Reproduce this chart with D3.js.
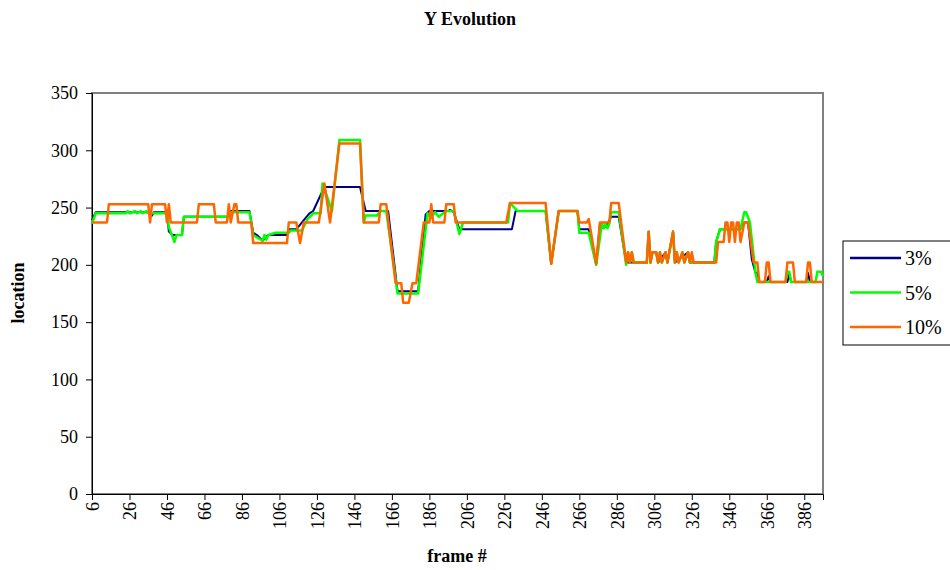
<!DOCTYPE html>
<html>
<head>
<meta charset="utf-8">
<script src="https://cdn.jsdelivr.net/npm/d3@7.9.0/dist/d3.min.js"></script>
<style>
  body { margin: 0; background: #fff; }
  svg text { font-family: "Liberation Serif", "DejaVu Serif", serif; fill: #000; }
</style>
</head>
<body>
<svg id="chart" width="950" height="570"></svg>
<script>
// series names, legend order
const seriesNames = ['3%', '5%', '10%'];

// breakpoints: [frame, location]
const s3 = [[6,239],[8,246],[37,246],[38,243],[39,246],[46,246],[47,229],[49,226],[54,226],[55,242],[79,242],[80,247],[90,247],[92,228],[94,226],[97,221],[100,226],[110,226],[111,231],[115,231],[119,239],[122,245],[124,247],[130,268],[149,268],[152,247],[164,247],[169,177],[180,177],[184,244],[186,247],[196,247],[197,248],[199,246],[202,231],[230,231],[232,247],[248,247],[251,201],[255,247],[265,247],[266,231],[271,231],[275,201],[277,236],[279,232],[281,236],[283,242],[287,242],[291,202],[302,202],[303,229],[304,202],[305,211],[307,211],[308,202],[312,211],[313,202],[316,229],[317,202],[324,211],[325,202],[338,202],[339,220],[341,231],[351,231],[354,237],[356,237],[358,205],[360,193],[361,193],[362,185],[366,185],[367,190],[368,185],[377,185],[378,192],[379,185],[387,185],[388,193],[389,185],[396,185]];

const s5 = [[6,236],[8,245],[24,245],[25,247],[26,245],[29,247],[30,245],[32,247],[33,245],[35,247],[36,245],[46,245],[47,233],[50,220],[51,226],[54,226],[55,242],[79,242],[80,246],[90,246],[92,226],[97,221],[98,226],[99,222],[100,226],[104,228],[111,228],[112,230],[118,230],[121,240],[124,245],[128,245],[129,271],[134,247],[138,309],[149,309],[151,237],[152,243],[158,243],[160,247],[163,247],[169,175],[180,175],[185,245],[187,241],[189,246],[191,242],[195,247],[199,247],[202,227],[204,237],[228,237],[229,254],[233,247],[248,247],[251,201],[255,247],[265,247],[266,228],[271,228],[275,200],[278,236],[279,232],[280,236],[281,232],[282,236],[283,246],[287,246],[291,200],[292,211],[293,202],[294,211],[295,202],[302,202],[303,229],[304,202],[305,211],[307,211],[308,202],[309,211],[310,202],[312,211],[313,202],[316,229],[317,202],[318,211],[319,202],[321,211],[322,202],[324,211],[325,202],[338,202],[339,220],[341,231],[352,231],[354,246],[355,246],[357,237],[360,193],[361,185],[376,185],[377,194],[378,194],[379,185],[392,185],[393,194],[395,194],[396,190]];

const s10 = [[6,237],[14,237],[15,253],[36,253],[37,237],[38,253],[45,253],[46,237],[47,253],[48,237],[62,237],[63,253],[71,253],[72,237],[78,237],[79,253],[80,237],[82,253],[83,253],[84,237],[91,237],[92,219],[110,219],[111,237],[115,237],[117,219],[119,237],[127,237],[130,271],[133,237],[138,306],[149,306],[151,237],[159,237],[160,253],[163,253],[168,184],[171,184],[172,167],[175,167],[177,184],[179,184],[183,237],[186,237],[187,253],[188,237],[194,237],[195,253],[199,253],[200,237],[227,237],[229,254],[248,254],[251,201],[255,247],[265,247],[266,237],[270,237],[271,240],[275,201],[277,237],[282,237],[283,254],[287,254],[291,202],[292,211],[293,202],[294,211],[295,202],[302,202],[303,229],[304,202],[305,211],[307,211],[308,202],[309,211],[310,202],[312,211],[313,202],[316,229],[317,202],[318,211],[319,202],[321,211],[322,202],[324,211],[325,202],[326,211],[327,202],[339,202],[340,220],[343,220],[344,237],[345,237],[346,220],[347,237],[348,237],[349,220],[350,237],[351,237],[352,220],[354,237],[356,237],[359,202],[361,202],[362,185],[365,185],[366,202],[367,202],[368,185],[376,185],[377,202],[380,202],[381,185],[387,185],[388,202],[389,202],[390,185],[396,185]];

const yTicks = [0, 50, 100, 150, 200, 250, 300, 350];
const xTicks = [6, 26, 46, 66, 86, 106, 126, 146, 166, 186, 206, 226, 246, 266, 286, 306, 326, 346, 366, 386];
const colors = ['#000080', '#00ff00', '#ff6600'];

const svg = d3.select('#chart');
const plotLeft = 92, plotRight = 823, plotTop = 93, plotBottom = 494;

const x = d3.scaleLinear().domain([6, 396]).range([plotLeft, plotRight]);
const y = d3.scaleLinear().domain([0, 350]).range([plotBottom, plotTop]);

// title
svg.append('text')
  .attr('x', 470).attr('y', 25)
  .attr('text-anchor', 'middle')
  .style('font-size', '18px').style('font-weight', 'bold')
  .text('Y Evolution');

// plot area border
svg.append('rect')
  .attr('x', plotLeft).attr('y', plotTop)
  .attr('width', plotRight - plotLeft).attr('height', plotBottom - plotTop)
  .attr('fill', 'none').attr('stroke', '#808080').attr('stroke-width', 2);

// y axis
let yAxis = svg.append('g')
  .attr('transform', `translate(${plotLeft},0)`)
  .call(d3.axisLeft(y).tickValues(yTicks).tickSize(6).tickPadding(8));
yAxis.select('.domain').attr('stroke', '#000');
yAxis.selectAll('text').style('font-size', '18px').style('font-family', '"Liberation Serif", serif');

// x axis
let xAxis = svg.append('g')
  .attr('transform', `translate(0,${plotBottom})`)
  .call(d3.axisBottom(x).tickValues(xTicks).tickSize(6).tickFormat(d3.format('d')));
xAxis.select('.domain').attr('stroke', '#000');
xAxis.selectAll('text')
  .style('font-size', '18px').style('font-family', '"Liberation Serif", serif')
  .attr('text-anchor', 'end')
  .attr('transform', 'rotate(-90)')
  .attr('x', -8).attr('y', 0).attr('dy', '0.35em');

// axis titles
svg.append('text')
  .attr('transform', 'translate(24,293) rotate(-90)')
  .attr('text-anchor', 'middle')
  .style('font-size', '18px').style('font-weight', 'bold')
  .text('location');

svg.append('text')
  .attr('x', 457).attr('y', 562)
  .attr('text-anchor', 'middle')
  .style('font-size', '18px').style('font-weight', 'bold')
  .text('frame #');

// lines
const line = d3.line().x(d => x(d[0])).y(d => y(d[1]));
const allSeries = [s3, s5, s10];
const widths = [2, 2.5, 2.5];

svg.selectAll('path.series')
  .data(allSeries)
  .enter()
  .append('path')
  .attr('class', 'series')
  .attr('d', line)
  .attr('fill', 'none')
  .attr('stroke', (d, i) => colors[i])
  .attr('stroke-width', (d, i) => widths[i])
  .attr('stroke-linejoin', 'round');

// legend
let legend = svg.append('g');
legend.append('rect')
  .attr('x', 843).attr('y', 241).attr('width', 110).attr('height', 104)
  .attr('fill', '#fff').attr('stroke', '#000').attr('stroke-width', 1);

seriesNames.forEach((name, i) => {
  let ly = 258 + i * 34.5;
  legend.append('line')
    .attr('x1', 850).attr('x2', 901).attr('y1', ly).attr('y2', ly)
    .attr('stroke', colors[i]).attr('stroke-width', 2.5);
  legend.append('text')
    .attr('x', 905).attr('y', ly).attr('dy', '0.35em')
    .style('font-size', '20px')
    .text(name);
});
</script>
</body>
</html>
